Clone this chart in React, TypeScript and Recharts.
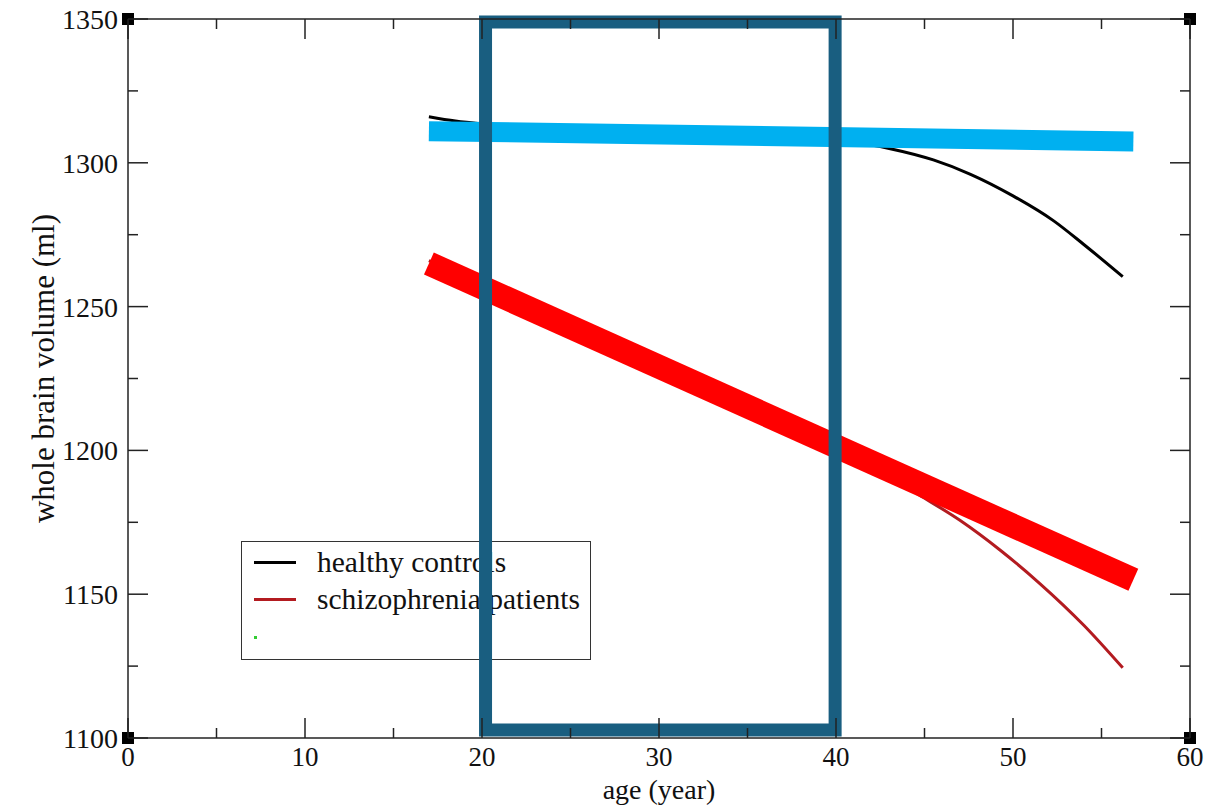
import React from 'react';
import { LineChart, Line, XAxis, YAxis, Legend, Label, ReferenceDot } from 'recharts';

const FONT = '"Liberation Serif", "Times New Roman", serif';

// fitted curves
const healthyAge = [17, 18.5, 20, 25, 30, 35, 40, 43, 45.5, 47.6, 50, 52.3, 54, 56.2];
const healthyVol = [1316, 1314.5, 1313.5, 1312, 1311, 1310, 1308, 1305, 1301, 1296, 1288.5, 1279.8, 1271.6, 1260.4];
const patientAge = [17, 20, 25, 30, 35, 40, 44.7, 47, 49.3, 51.5, 54, 56.2];
const patientVol = [1266, 1258, 1244.5, 1230.5, 1216.5, 1202, 1184.5, 1175.7, 1165.2, 1153.8, 1139.2, 1124.4];

// thick trend lines drawn over the curves
const trendAge = [17, 56.8];
const healthyTrend = [1311, 1307.4];
const patientTrend = [1265, 1155];

// highlighted age window 20-40
const windowAge = [20.2, 20.2, 39.95, 39.95, 20.2];
const windowVol = [1102.8, 1349, 1349, 1102.8, 1102.8];

const xTicks = [0, 5, 10, 15, 20, 25, 30, 35, 40, 45, 50, 55, 60];
const yTicks = [1100, 1125, 1150, 1175, 1200, 1225, 1250, 1275, 1300, 1325, 1350];
const cornerAges = [0, 60];
const cornerVols = [1100, 1350];

const zip = (xs: number[], ys: number[]) => xs.map((x, i) => ({ age: x, vol: ys[i] }));

const healthyData = zip(healthyAge, healthyVol);
const patientData = zip(patientAge, patientVol);
const healthyTrendData = zip(trendAge, healthyTrend);
const patientTrendData = zip(trendAge, patientTrend);
const windowData = zip(windowAge, windowVol);

const AXIS = '#222';

const BottomTick = ({ x, y, payload }: any) => {
  const major = payload.value % 10 === 0;
  return (
    <g>
      <line x1={x} x2={x} y1={y} y2={y - (major ? 20 : 10)} stroke={AXIS} strokeWidth={1.5} />
      {major && (
        <text x={x} y={y + 28} textAnchor="middle" fontFamily={FONT} fontSize={27} fill="#111">
          {payload.value}
        </text>
      )}
    </g>
  );
};

const TopTick = ({ x, y, payload }: any) => {
  const major = payload.value % 10 === 0;
  return <line x1={x} x2={x} y1={y} y2={y + (major ? 20 : 10)} stroke={AXIS} strokeWidth={1.5} />;
};

const LeftTick = ({ x, y, payload }: any) => {
  const major = payload.value % 50 === 0;
  return (
    <g>
      <line x1={x} x2={x + (major ? 20 : 10)} y1={y} y2={y} stroke={AXIS} strokeWidth={1.5} />
      {major && (
        <text x={x - 10} y={y + 10} textAnchor="end" fontFamily={FONT} fontSize={28} fill="#111">
          {payload.value}
        </text>
      )}
    </g>
  );
};

const RightTick = ({ x, y, payload }: any) => {
  const major = payload.value % 50 === 0;
  return <line x1={x} x2={x - (major ? 20 : 10)} y1={y} y2={y} stroke={AXIS} strokeWidth={1.5} />;
};

const YTitle = ({ viewBox }: any) => {
  const cx = 43;
  const cy = viewBox.y + viewBox.height / 2 - 10;
  return (
    <text
      x={cx}
      y={cy}
      transform={`rotate(-90 ${cx} ${cy})`}
      textAnchor="middle"
      dominantBaseline="central"
      fontFamily={FONT}
      fontSize={31}
      fill="#111"
    >
      whole brain volume (ml)
    </text>
  );
};

const XTitle = ({ viewBox }: any) => (
  <text
    x={viewBox.x + viewBox.width / 2}
    y={viewBox.y + 61}
    textAnchor="middle"
    fontFamily={FONT}
    fontSize={28}
    fill="#111"
  >
    age (year)
  </text>
);

const CornerSquare = ({ cx, cy }: any) => (
  <rect x={cx - 6} y={cy - 6} width={12} height={12} fill="#000" />
);

const renderLegend = (props: any) => {
  const items = (props.payload || []).filter(
    (p: any) => p.value === 'healthy controls' || p.value === 'schizophrenia patients'
  );
  return (
    <div
      style={{
        width: '100%',
        height: '100%',
        boxSizing: 'border-box',
        border: '1.5px solid #333',
        position: 'relative',
        fontFamily: FONT,
        fontSize: 29.5,
        color: '#111',
      }}
    >
      {items.map((item: any, i: number) => (
        <div
          key={i}
          style={{
            position: 'absolute',
            left: 0,
            top: 4 + i * 37,
            height: 32,
            display: 'flex',
            alignItems: 'center',
            whiteSpace: 'nowrap',
          }}
        >
          <span style={{ display: 'inline-block', marginLeft: 12, width: 42, height: 3, background: item.color }} />
          <span style={{ marginLeft: 21, lineHeight: '32px' }}>{item.value}</span>
        </div>
      ))}
      <span
        style={{ position: 'absolute', left: 12, top: 94, width: 3, height: 3, background: '#33cc33' }}
      />
    </div>
  );
};

export default function App() {
  return (
    <div style={{ position: 'absolute', left: 0, top: 0 }}>
      <LineChart width={1210} height={808} margin={{ top: 18, right: 19, left: 0, bottom: 0 }}>
        <XAxis
          dataKey="age"
          type="number"
          domain={[0, 60]}
          ticks={xTicks}
          interval={0}
          height={70}
          tickSize={0}
          tickMargin={0}
          tickLine={false}
          tick={<BottomTick />}
          axisLine={{ stroke: AXIS, strokeWidth: 1.5 }}
        >
          <Label content={<XTitle />} />
        </XAxis>
        <XAxis
          xAxisId="top"
          orientation="top"
          dataKey="age"
          type="number"
          domain={[0, 60]}
          ticks={xTicks}
          interval={0}
          allowDataOverflow
          height={1}
          tickSize={0}
          tickMargin={0}
          tickLine={false}
          tick={<TopTick />}
          axisLine={{ stroke: AXIS, strokeWidth: 1.5 }}
        />
        <YAxis
          type="number"
          domain={[1100, 1350]}
          ticks={yTicks}
          interval={0}
          width={128}
          tickSize={0}
          tickMargin={0}
          tickLine={false}
          tick={<LeftTick />}
          axisLine={{ stroke: AXIS, strokeWidth: 1.5 }}
        >
          <Label content={<YTitle />} />
        </YAxis>
        <YAxis
          yAxisId="right"
          orientation="right"
          type="number"
          domain={[1100, 1350]}
          ticks={yTicks}
          interval={0}
          allowDataOverflow
          width={1}
          tickSize={0}
          tickMargin={0}
          tickLine={false}
          tick={<RightTick />}
          axisLine={{ stroke: AXIS, strokeWidth: 1.5 }}
        />
        <Legend
          layout="vertical"
          align="center"
          verticalAlign="middle"
          width={350}
          height={119}
          content={renderLegend}
          wrapperStyle={{ left: 241, top: 541, width: 350, height: 119, zIndex: -1 }}
        />
        <Line
          data={healthyData}
          dataKey="vol"
          name="healthy controls"
          type="monotone"
          stroke="#000"
          strokeWidth={3}
          dot={false}
          isAnimationActive={false}
        />
        <Line
          data={patientData}
          dataKey="vol"
          name="schizophrenia patients"
          type="monotone"
          stroke="#b31b20"
          strokeWidth={3}
          dot={false}
          isAnimationActive={false}
        />
        <Line
          data={healthyTrendData}
          dataKey="vol"
          name="healthy trend"
          legendType="none"
          type="linear"
          stroke="#00b0f0"
          strokeWidth={20}
          dot={false}
          isAnimationActive={false}
        />
        <Line
          data={patientTrendData}
          dataKey="vol"
          name="patient trend"
          legendType="none"
          type="linear"
          stroke="#ff0000"
          strokeWidth={24}
          dot={false}
          isAnimationActive={false}
        />
        <Line
          data={windowData}
          dataKey="vol"
          name="age window"
          legendType="none"
          type="linear"
          stroke="#195e80"
          strokeWidth={13}
          strokeLinecap="square"
          strokeLinejoin="miter"
          dot={false}
          isAnimationActive={false}
        />
        {cornerAges.map((a) =>
          cornerVols.map((v) => (
            <ReferenceDot
              key={`${a}-${v}`}
              x={a}
              y={v}
              r={6}
              ifOverflow="visible"
              shape={<CornerSquare />}
            />
          ))
        )}
      </LineChart>
    </div>
  );
}
